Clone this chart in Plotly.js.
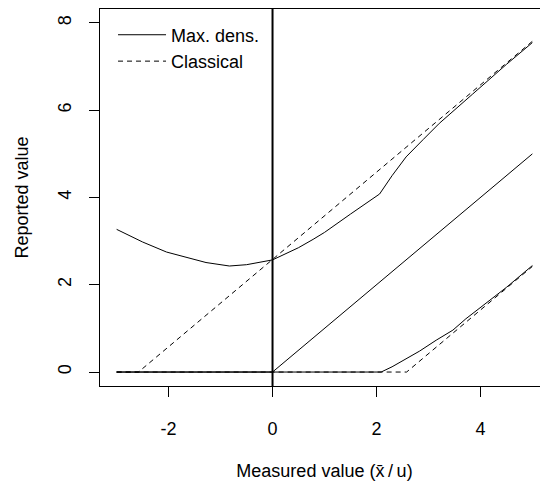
<!DOCTYPE html>
<html>
<head>
<meta charset="utf-8">
<script src="https://cdn.plot.ly/plotly-3.0.1.min.js"></script>
<style>
html,body{margin:0;padding:0;width:540px;height:486px;overflow:hidden;background:#fff;}
#chart{width:560px;height:486px;}
</style>
</head>
<body>
<div id="chart"></div>
<script>
// Max. density upper bound
const mdUpperX = [-3, -2.5, -2.04, -1.5, -1.28, -0.83, -0.5, 0, 0.5, 0.78, 1.0, 1.5, 2.06, 2.3, 2.57, 2.9, 3.21, 3.85, 4.5, 5];
const mdUpperY = [3.27, 2.98, 2.75, 2.57, 2.51, 2.43, 2.46, 2.57, 2.85, 3.04, 3.2, 3.62, 4.08, 4.5, 4.93, 5.33, 5.70, 6.37, 7.05, 7.55];
// Max. density estimate
const mdMidX = [-3, 0, 5];
const mdMidY = [0, 0, 5];
// Max. density lower bound
const mdLowerX = [-3, 2.09, 2.3, 2.51, 2.83, 3.15, 3.47, 3.72, 3.92, 4.5, 5];
const mdLowerY = [0, 0, 0.12, 0.27, 0.48, 0.73, 0.96, 1.22, 1.41, 1.94, 2.44];
// Classical bounds
const clUpperX = [-3, -2.58, 5];
const clUpperY = [0, 0, 7.58];
const clLowerX = [-3, 2.58, 5];
const clLowerY = [0, 0, 2.42];

const xTicks = [-2, 0, 2, 4];
const yTicks = [0, 2, 4, 6, 8];

function join(...parts){
  const x=[], y=[];
  parts.forEach((p,i)=>{ if(i>0){x.push(null);y.push(null);} x.push(...p[0]); y.push(...p[1]); });
  return {x,y};
}
const md = join([mdUpperX, mdUpperY],[mdMidX, mdMidY],[mdLowerX, mdLowerY]);
const cl = join([clUpperX, clUpperY],[clLowerX, clLowerY]);

const font = {family:'"Liberation Sans", Arial, sans-serif', size:18, color:'#000'};

const data = [
  {x:cl.x, y:cl.y, type:'scatter', mode:'lines', name:'Classical',
   line:{color:'#000', width:1, dash:'5px,4px'}, connectgaps:false},
  {x:md.x, y:md.y, type:'scatter', mode:'lines', name:'Max. dens.',
   line:{color:'#000', width:1}, connectgaps:false}
];

const layout = {
  width:560, height:486,
  margin:{l:100, r:10.7, t:9, b:100},
  paper_bgcolor:'#fff', plot_bgcolor:'#fff',
  font:font,
  showlegend:true,
  legend:{x:0.029, y:0.98, xanchor:'left', yanchor:'top', traceorder:'reversed',
          itemwidth:48, bgcolor:'rgba(0,0,0,0)', font:font},
  xaxis:{range:[-3.32,5.32], tickvals:xTicks, ticktext:xTicks.map(String),
         showline:true, mirror:true, linecolor:'#000', linewidth:1,
         ticks:'outside', ticklen:10, tickcolor:'#000', tickwidth:1,
         showgrid:false, zeroline:false, tickfont:font, ticklabelstandoff:16,
         title:{text:'Measured value (x̄\u2009/\u2009u)', font:font, standoff:26}},
  yaxis:{range:[-0.32,8.32], tickvals:yTicks, ticktext:yTicks.map(String),
         showline:true, mirror:true, linecolor:'#000', linewidth:1,
         ticks:'outside', ticklen:10, tickcolor:'#000', tickwidth:1, tickangle:-90,
         showgrid:false, zeroline:false, tickfont:font, ticklabelstandoff:11,
         title:{text:'Reported value', font:font, standoff:21}},
  shapes:[{type:'line', xref:'x', yref:'paper', x0:0, x1:0, y0:0, y1:1,
           line:{color:'#000', width:2}}]
};

Plotly.newPlot('chart', data, layout, {displayModeBar:false, staticPlot:true});
</script>
</body>
</html>
